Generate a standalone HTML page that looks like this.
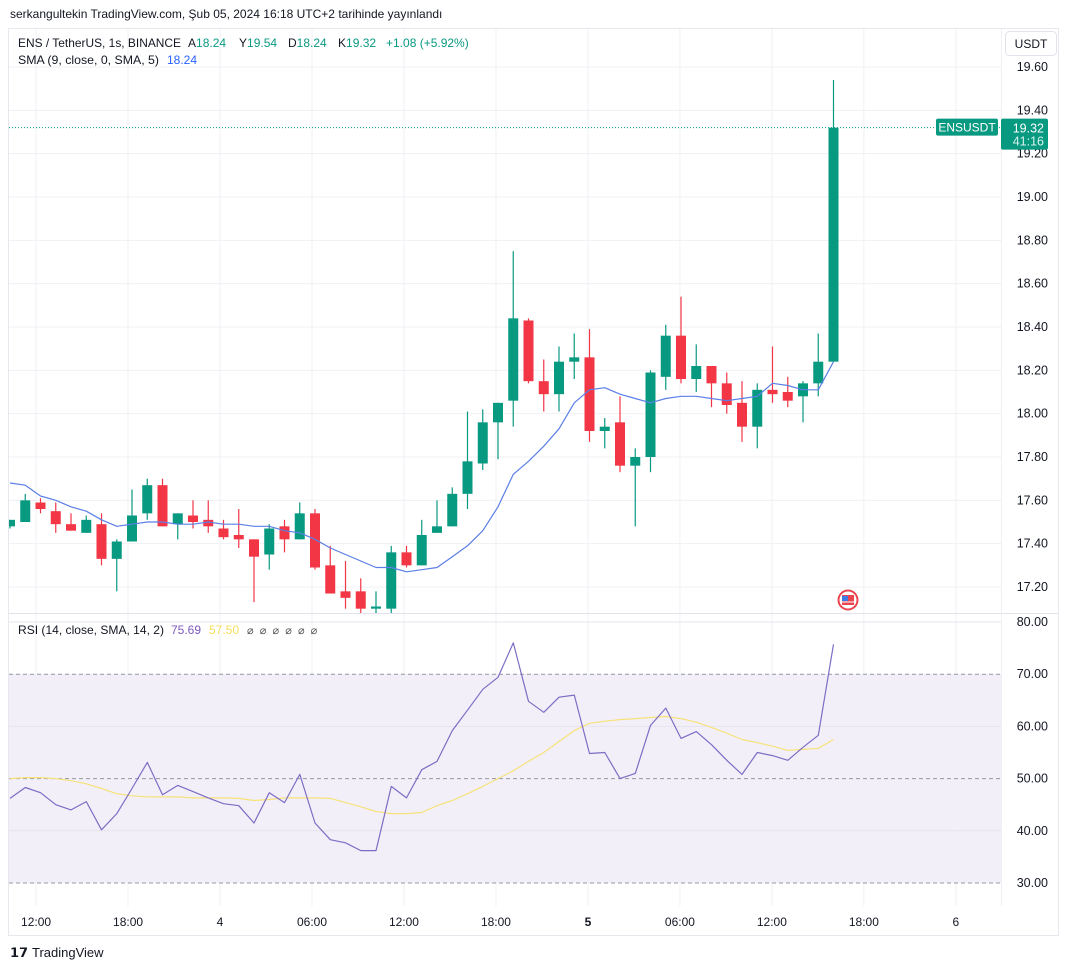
<!DOCTYPE html>
<html><head><meta charset="utf-8"><style>
body{margin:0;background:#fff;font-family:"Liberation Sans",sans-serif;}
svg text{font-family:"Liberation Sans",sans-serif;white-space:pre;}
</style></head><body>
<svg id="chart" width="1068" height="970" viewBox="0 0 1068 970" xmlns="http://www.w3.org/2000/svg">
<defs><clipPath id="pane"><rect x="9" y="29" width="992" height="877"/></clipPath></defs>
<text x="10" y="18" font-size="12" fill="#131722">serkangultekin TradingView.com, Şub 05, 2024 16:18 UTC+2 tarihinde yayınlandı</text>
<rect x="8.5" y="28.5" width="1050" height="907" fill="#fff" stroke="#e6e8ee"/>
<rect x="9" y="674" width="992" height="209" fill="#f2eff9"/>
<g id="grid"></g>
<line x1="9" y1="613.5" x2="1058" y2="613.5" stroke="#e0e3eb"/>
<line x1="1001.5" y1="29" x2="1001.5" y2="906" stroke="#eef0f3"/>
<g id="marks" clip-path="url(#pane)"></g>
<g id="labels"></g>
<text y="47" font-size="12" fill="#131722"><tspan x="18" textLength="163" lengthAdjust="spacingAndGlyphs">ENS / TetherUS, 1s, BINANCE</tspan><tspan x="188">A</tspan><tspan fill="#089981">18.24</tspan><tspan x="239">Y</tspan><tspan fill="#089981">19.54</tspan><tspan x="288">D</tspan><tspan fill="#089981">18.24</tspan><tspan x="338">K</tspan><tspan fill="#089981">19.32</tspan><tspan x="386" fill="#089981">+1.08 (+5.92%)</tspan></text>
<text y="64" font-size="12" fill="#131722"><tspan x="18" textLength="141" lengthAdjust="spacingAndGlyphs">SMA (9, close, 0, SMA, 5)</tspan><tspan x="167" fill="#2962ff">18.24</tspan></text>
<text y="634" font-size="12" fill="#131722"><tspan x="18" textLength="146" lengthAdjust="spacingAndGlyphs">RSI (14, close, SMA, 14, 2)</tspan><tspan x="171" fill="#7e57c2">75.69</tspan><tspan x="209" fill="#f7dd5a">57.50</tspan><tspan x="247" fill="#555" font-size="11">⌀  ⌀  ⌀  ⌀  ⌀  ⌀</tspan></text>
<rect x="1005.5" y="31.5" width="51" height="24" rx="4" fill="#fff" stroke="#e0e3eb"/>
<text x="1031" y="48" font-size="12" fill="#131722" text-anchor="middle">USDT</text>
<g><circle cx="848" cy="600" r="9.5" fill="#fff" stroke="#e8454f" stroke-width="2"/><rect x="842" y="595" width="12" height="10" fill="#e8454f"/><rect x="842" y="596" width="6" height="5" fill="#3d7ce6"/><line x1="842" y1="602" x2="854" y2="602" stroke="#fff"/></g>
<text x="10" y="957" font-size="13" fill="#131722" font-weight="bold">𝟭𝟳</text>
<text x="32" y="957" font-size="13" fill="#131722">TradingView</text>
</svg>
<script>
const opens  =[17.48,17.50,17.59,17.55,17.49,17.45,17.49,17.33,17.41,17.54,17.67,17.49,17.53,17.51,17.47,17.44,17.42,17.35,17.48,17.42,17.54,17.30,17.18,17.18,17.10,17.10,17.36,17.30,17.45,17.48,17.63,17.77,17.96,18.06,18.43,18.15,18.09,18.24,18.26,17.92,17.96,17.76,17.80,18.17,18.36,18.16,18.22,18.14,18.05,17.94,18.11,18.10,18.08,18.14,18.24];
const closes =[17.51,17.60,17.56,17.49,17.46,17.51,17.33,17.41,17.53,17.67,17.48,17.54,17.50,17.48,17.43,17.42,17.34,17.47,17.42,17.54,17.29,17.17,17.15,17.10,17.11,17.36,17.30,17.44,17.48,17.63,17.78,17.96,18.05,18.44,18.15,18.09,18.24,18.26,17.92,17.94,17.76,17.80,18.19,18.36,18.16,18.22,18.14,18.04,17.94,18.11,18.09,18.06,18.14,18.24,19.32];
const highs  =[17.51,17.63,17.61,17.59,17.54,17.53,17.54,17.42,17.65,17.70,17.70,17.54,17.60,17.60,17.51,17.56,17.42,17.49,17.51,17.59,17.56,17.39,17.32,17.24,17.18,17.39,17.39,17.51,17.60,17.66,18.01,18.02,18.05,18.75,18.44,18.25,18.31,18.37,18.39,17.98,18.08,17.84,18.20,18.41,18.54,18.32,18.22,18.19,18.15,18.14,18.31,18.17,18.15,18.37,19.54];
const lows   =[17.47,17.50,17.54,17.45,17.46,17.45,17.30,17.18,17.41,17.51,17.48,17.42,17.47,17.45,17.42,17.38,17.13,17.28,17.36,17.42,17.28,17.17,17.10,17.08,17.08,17.08,17.29,17.30,17.45,17.48,17.56,17.74,17.79,17.94,18.14,18.01,18.01,18.16,17.87,17.84,17.73,17.48,17.73,18.11,18.14,18.10,18.03,18.00,17.87,17.84,18.05,18.03,17.96,18.08,18.24];
const smaValues=[17.68,17.67,17.62,17.60,17.57,17.55,17.51,17.48,17.49,17.50,17.50,17.49,17.49,17.50,17.49,17.49,17.48,17.48,17.46,17.45,17.42,17.38,17.35,17.32,17.29,17.29,17.27,17.28,17.29,17.34,17.39,17.46,17.57,17.72,17.78,17.85,17.93,18.05,18.11,18.12,18.09,18.07,18.05,18.07,18.08,18.08,18.07,18.06,18.07,18.08,18.14,18.13,18.11,18.11,18.24];
const rsiValues=[46.2,48.3,47.3,45.0,44.0,45.6,40.2,43.3,48.1,53.1,46.9,48.7,47.5,46.3,45.2,44.8,41.5,47.3,45.4,50.8,41.5,38.3,37.7,36.2,36.2,48.5,46.3,51.7,53.3,59.2,63.1,67.1,69.4,76.0,64.8,62.7,65.6,66.0,54.8,55.0,50.0,51.0,60.2,63.5,57.7,59.0,56.5,53.5,50.8,55.0,54.4,53.5,56.0,58.3,75.7];
const rsiSmaValues=[50.0,50.2,50.2,50.0,49.6,49.0,48.1,47.1,46.7,46.5,46.5,46.5,46.3,46.3,46.3,46.2,45.8,46.0,46.3,46.3,46.3,46.2,45.4,44.6,43.7,43.3,43.3,43.5,44.8,45.8,47.1,48.5,50.0,51.5,53.3,55.0,57.1,59.2,60.6,61.0,61.3,61.5,61.7,61.9,61.5,60.8,59.8,58.7,57.5,56.9,56.2,55.4,55.6,55.8,57.5];
const priceTicks=[17.20,17.40,17.60,17.80,18.00,18.20,18.40,18.60,18.80,19.00,19.20,19.40,19.60];
const rsiTicks=[30,40,50,60,70,80];
const timeLabels=["12:00","18:00","4","06:00","12:00","18:00","5","06:00","12:00","18:00","6"];
const timeIdx=[1.7,7.7,13.7,19.7,25.7,31.7,37.7,43.7,49.7,55.7,61.7];
const lastPrice=19.32;

const NS="http://www.w3.org/2000/svg";
const xS=i=>10+i*15.25;
const xT=i=>10+i*15.33;
const yP=p=>67+(19.6-p)*216.67;
const yR=v=>622+(80-v)*5.22;
function mk(tag,attrs,parent){const e=document.createElementNS(NS,tag);for(const k in attrs)e.setAttribute(k,attrs[k]);document.getElementById(parent).appendChild(e);return e;}
timeIdx.forEach((t,k)=>{const x=xT(t);
 const g=mk('line',{x1:x,y1:29,x2:x,y2:906,stroke:'#f0f1f4'},'grid');
 
 
 const tx=mk('text',{x:x,y:926,'font-size':12,fill:'#131722','text-anchor':'middle','font-weight':timeLabels[k]==='5'?'bold':'normal'},'labels');
 tx.textContent=timeLabels[k];
 
 
});
priceTicks.forEach(p=>{const y=yP(p);
 const g=mk('line',{x1:9,y1:y,x2:1001,y2:y,stroke:'#f0f1f4'},'grid');
 
 
 const t=mk('text',{x:1048,y:y+4,'font-size':12.5,fill:'#131722','text-anchor':'end'},'labels');
 t.textContent=p.toFixed(2);
 
 
});
rsiTicks.forEach(v=>{const y=yR(v);
 const dashed=(v===30||v===50||v===70);
 const g=mk('line',{x1:9,y1:y,x2:1001,y2:y,stroke:dashed?'#9598a1':'#e6e3ee','stroke-dasharray':dashed?'4 3':'none'},'grid');
 
 
 const t=mk('text',{x:1048,y:y+4,'font-size':12.5,fill:'#131722','text-anchor':'end'},'labels');
 t.textContent=v.toFixed(2);
 
 
});
const ly=yP(lastPrice);
const pl=mk('line',{x1:9,y1:ly,x2:1001,y2:ly,stroke:'#089981','stroke-dasharray':'1 2'},'marks');


for(let i=0;i<opens.length;i++){
 const up=closes[i]>=opens[i];const c=up?'#089981':'#f23645';const x=xS(i);
 const w=mk('line',{x1:x,y1:yP(highs[i]),x2:x,y2:yP(lows[i]),stroke:c,'stroke-width':1.2},'marks');
 
 
 const top=yP(Math.max(opens[i],closes[i])),bot=yP(Math.min(opens[i],closes[i]));
 const b=mk('rect',{x:x-5,y:top,width:10,height:Math.max(1,bot-top),fill:c},'marks');
 
 
}
function poly(vals,ys,color,name){const pts=vals.map((v,i)=>xS(i).toFixed(1)+','+ys(v).toFixed(1)).join(' ');
 const p=mk('polyline',{points:pts,fill:'none',stroke:color,'stroke-width':1.2,'stroke-linejoin':'round'},'marks');
 
 }
poly(smaValues,yP,'#5b7fe6','sma-line');
poly(rsiSmaValues,yR,'#f7e27a','rsi-sma-line');
poly(rsiValues,yR,'#7e6cc4','rsi-line');
const r1=mk('rect',{x:936,y:ly-9,width:62,height:17,rx:2,fill:'#089981'},'labels');


const t1=mk('text',{x:967,y:ly+4,'font-size':12,fill:'#fff','text-anchor':'middle'},'labels');t1.textContent='ENSUSDT';


const r2=mk('rect',{x:1001,y:ly-9,width:47,height:31,rx:2,fill:'#089981'},'labels');


const t2=mk('text',{x:1044,y:ly+5,'font-size':12.5,fill:'#fff','text-anchor':'end'},'labels');t2.textContent=lastPrice.toFixed(2);


const t3=mk('text',{x:1044,y:ly+18,'font-size':12.5,fill:'#d8f2ec','text-anchor':'end'},'labels');t3.textContent='41:16';


</script>
</body></html>
